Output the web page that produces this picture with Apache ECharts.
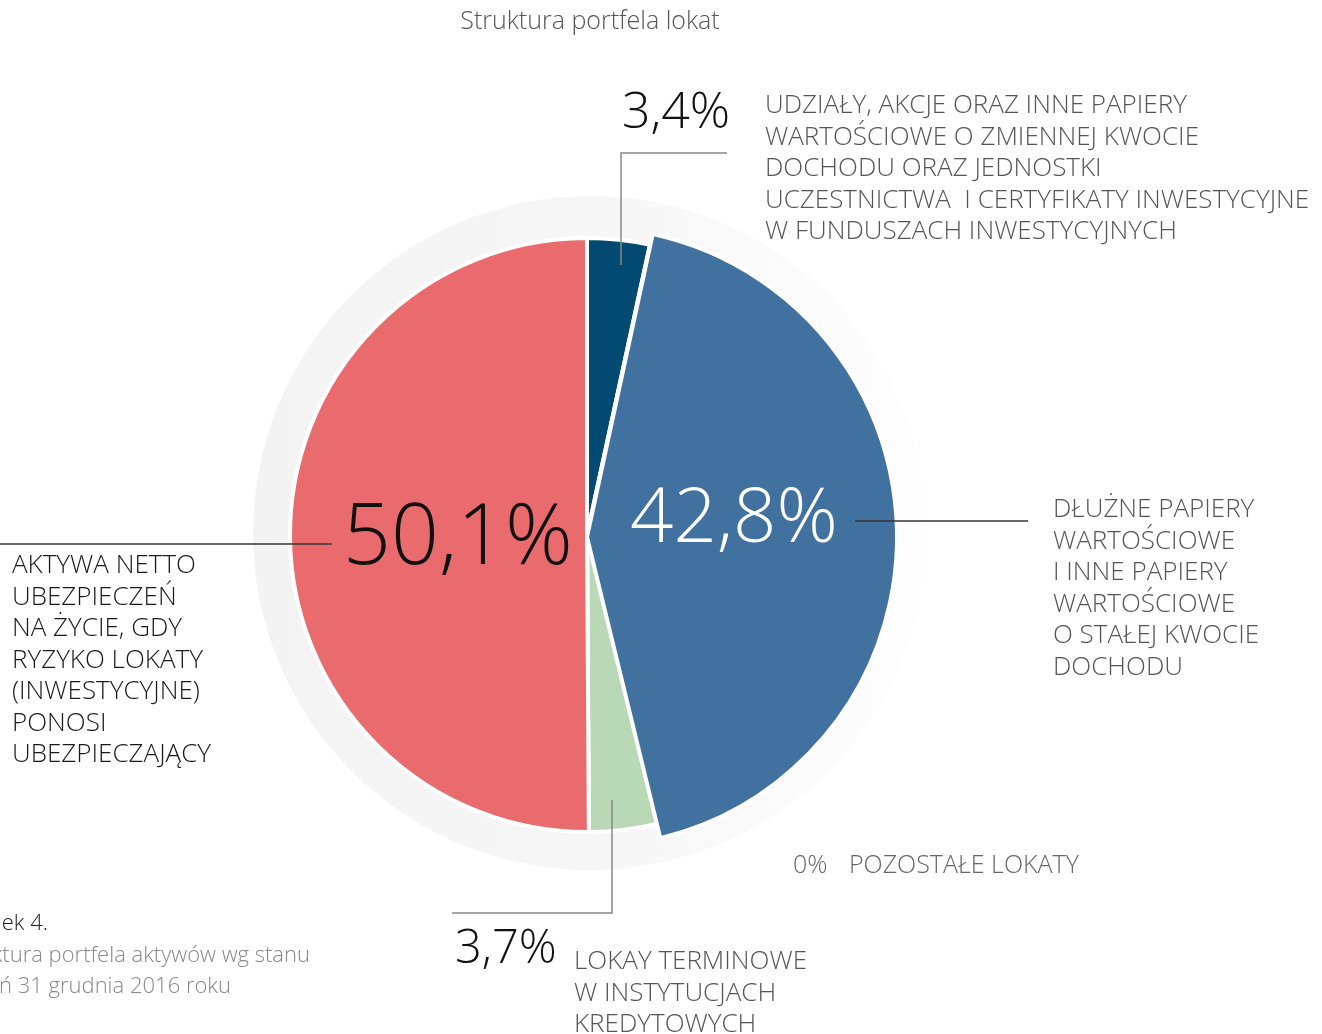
<!DOCTYPE html>
<html>
<head>
<meta charset="utf-8">
<script src="https://cdn.jsdelivr.net/npm/echarts@6/dist/echarts.min.js"></script>
<style>
  html, body { margin: 0; padding: 0; background: #fff; }
  #chart { width: 1322px; height: 1034px; }
</style>
</head>
<body>
<div id="chart"></div>
<script>
// dane wykresu
const categories = [
  "Udziały, akcje i jednostki uczestnictwa",
  "Dłużne papiery wartościowe",
  "Lokaty terminowe",
  "Pozostałe lokaty",
  "Aktywa netto ubezpieczeń na życie"
];
const values = [3.4, 42.8, 3.7, 0, 50.1];
const colors = ["#034a72", "#41719f", "#b8d8b6", "#555555", "#e96b6d"];

const labelTop = [
  "UDZIAŁY, AKCJE ORAZ INNE PAPIERY",
  "WARTOŚCIOWE O ZMIENNEJ KWOCIE",
  "DOCHODU ORAZ JEDNOSTKI",
  "UCZESTNICTWA  I CERTYFIKATY INWESTYCYJNE",
  "W FUNDUSZACH INWESTYCYJNYCH"
];
const labelRight = [
  "DŁUŻNE PAPIERY",
  "WARTOŚCIOWE",
  "I INNE PAPIERY",
  "WARTOŚCIOWE",
  "O STAŁEJ KWOCIE",
  "DOCHODU"
];
const labelBottom = ["LOKAY TERMINOWE", "W INSTYTUCJACH", "KREDYTOWYCH"];
const labelOther = "POZOSTAŁE LOKATY";
const labelLeft = [
  "AKTYWA NETTO",
  "UBEZPIECZEŃ",
  "NA ŻYCIE, GDY",
  "RYZYKO LOKATY",
  "(INWESTYCYJNE)",
  "PONOSI",
  "UBEZPIECZAJĄCY"
];

const FONT = "'Open Sans', 'Noto Sans', sans-serif";
const center = [587, 535];

function pct(v) {
  return (v === 0 ? "0" : v.toFixed(1).replace(".", ",")) + "%";
}

const chart = echarts.init(document.getElementById("chart"));

function txt(x, y, text, size, color, align, vAlign, extra) {
  return {
    type: "text",
    z: 100,
    style: Object.assign({
      x: x,
      y: y,
      text: text,
      fill: color,
      font: "300 " + size + "px " + FONT,
      textAlign: align || "left",
      textVerticalAlign: vAlign || "middle"
    }, extra || {})
  };
}

function block(x, y, lines, color) {
  return txt(x, y, lines.join("\n"), 26, color, "left", "top", { lineHeight: 31.5 });
}

function line(points, color) {
  return {
    type: "polyline",
    z: 90,
    shape: { points: points },
    style: { stroke: color, lineWidth: 1.5, fill: null }
  };
}

const mainData = values.map((v, i) => ({
  name: categories[i],
  value: v,
  itemStyle: { color: colors[i] }
}));

// wysunięty (większy) wycinek dłużnych papierów
const bigData = values.map((v, i) => ({
  name: categories[i],
  value: v,
  itemStyle: i === 1
    ? { color: colors[i], borderColor: "#fff", borderWidth: 4 }
    : { color: "transparent", borderWidth: 0 }
}));

chart.setOption({
  animation: false,
  series: [
    {
      type: "pie",
      silent: true,
      center: [590, 533],
      radius: 337,
      label: { show: false },
      labelLine: { show: false },
      data: [{
        value: 1,
        itemStyle: {
          color: new echarts.graphic.LinearGradient(0, 0, 1, 0, [
            { offset: 0, color: "#f3f3f3" },
            { offset: 0.5, color: "#f6f6f6" },
            { offset: 1, color: "#fefefe" }
          ])
        }
      }]
    },
    {
      type: "pie",
      silent: true,
      center: center,
      radius: 297,
      startAngle: 90,
      clockwise: true,
      stillShowZeroSum: true,
      itemStyle: { borderColor: "#fff", borderWidth: 4 },
      label: { show: false },
      labelLine: { show: false },
      data: mainData
    },
    {
      type: "pie",
      silent: true,
      center: [587, 537],
      radius: 310,
      startAngle: 90,
      clockwise: true,
      label: { show: false },
      labelLine: { show: false },
      data: bigData
    }
  ],
  graphic: [
    txt(590, 22, "Struktura portfela lokat", 25, "#555", "center"),

    // wartości procentowe
    txt(343, 540, pct(values[4]), 84, "#111", "left"),
    txt(630, 520, pct(values[1]), 76, "#fff", "left"),
    txt(622, 114, pct(values[0]), 50, "#111", "left"),
    txt(455, 950, pct(values[2]), 47, "#111", "left"),
    txt(793, 866, pct(values[3]), 25, "#666", "left"),

    // opisy
    block(765, 90, labelTop, "#555"),
    block(1053, 494, labelRight, "#555"),
    block(12, 550, labelLeft, "#1a1a1a"),
    block(574, 946, labelBottom, "#555"),
    txt(849, 866, labelOther, 25, "#666", "left"),

    // linie odniesienia
    line([[621, 265], [621, 153], [727, 153]], "#888"),
    line([[855, 521], [1028, 521]], "#333"),
    line([[0, 544], [332, 544]], "#333"),
    line([[612, 800], [612, 913], [452, 913]], "#888"),

    // podpis
    txt(48, 924, "Rysunek 4.", 22, "#222", "right"),
    txt(310, 956, "Struktura portfela aktywów wg stanu", 22, "#888", "right"),
    txt(231, 987, "na dzień 31 grudnia 2016 roku", 22, "#888", "right")
  ]
});
</script>
</body>
</html>
